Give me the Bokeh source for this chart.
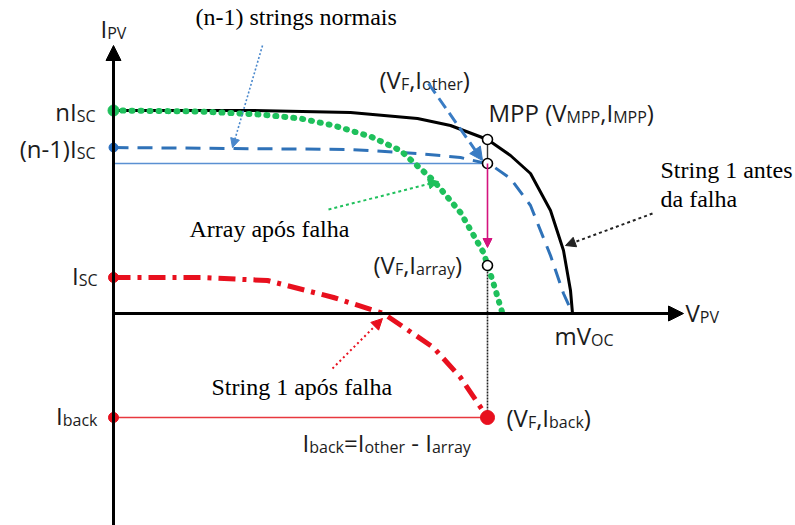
import glob
import subprocess

from bokeh.plotting import figure
from bokeh.models import Range1d, Arrow, NormalHead
from bokeh.core.properties import value
from bokeh.embed import file_html
from bokeh.resources import INLINE

# I-V curves in schematic units (origin at the axes crossing, 1 unit = 1 px)
before_v = [0, 137, 237, 304, 337, 374, 397, 417, 437, 450, 457, 459]
before_i = [203, 203, 201, 195, 188, 174, 158, 140, 103, 63, 23, 0]
normal_v = [0, 237, 304, 347, 377, 397, 417, 437, 450, 459]
normal_i = [166, 164, 160, 156, 149, 135, 108, 58, 20, 0]
array_v = [0, 87, 147, 187, 220, 257, 287, 320, 347, 370, 380, 389]
array_i = [203, 202, 199, 195, 188, 177, 163, 133, 101, 61, 30, 0]
fault_v = [0, 87, 154, 220, 270, 320, 347, 374]
fault_i = [36, 36, 33, 16, 0, -34, -64, -104]

# characteristic levels
N_ISC = 203
N1_ISC = 166
ISC = 36
I_BACK = -104
V_F = 374
I_MPP = 174
I_OTHER = 150
I_ARRAY = 48
M_VOC = 459

SANS = "Open Sans"
SERIF = "Liberation Serif"
INK = "#1c1c1c"
BLUE = "#2f72b8"
GREEN = "#1fc05c"
RED = "#e8101e"
MAGENTA = "#d4137e"
MAIN_PX = 24
SUB_PX = 16
NBSP = "\u00a0"
TEXT_LIFT = 9  # raise text so its baseline sits where intended

OX, OY = 113, 313  # axes crossing, in page pixels


def at(px, py):
    return px - OX, OY - py


p = figure(width=795, height=525, output_backend="svg", toolbar_location=None,
           x_range=Range1d(-OX, 795 - OX), y_range=Range1d(OY - 525, OY),
           min_border=0, outline_line_color=None)
p.xaxis.visible = False
p.yaxis.visible = False
p.grid.visible = False
p.background_fill_color = "white"
p.border_fill_color = "white"

# axes with arrow heads
ax_head = dict(size=15, fill_color="black", line_color="black")
p.add_layout(Arrow(end=NormalHead(**ax_head), x_start=0, y_start=OY - 525,
                   x_end=0, y_end=at(0, 45)[1], line_width=3, line_color="black"))
p.add_layout(Arrow(end=NormalHead(**ax_head), x_start=0, y_start=0,
                   x_end=at(683, 0)[0], y_end=0, line_width=3, line_color="black"))

# guide lines
p.line([0, V_F - 4], [I_OTHER, I_OTHER], line_color="#5a90d2", line_width=1.6)
p.line([0, V_F], [I_BACK, I_BACK], line_color="#e8383f", line_width=1.6)
p.line([V_F, V_F], [I_MPP, I_OTHER], line_color="#333333", line_width=1.4)
p.line([V_F, V_F], [I_ARRAY, I_BACK], line_color="#222222", line_width=1.6,
       line_dash="2 1")
p.add_layout(Arrow(end=NormalHead(size=9, fill_color=MAGENTA, line_color=MAGENTA),
                   x_start=V_F, y_start=I_OTHER, x_end=V_F, y_end=I_ARRAY + 18,
                   line_color=MAGENTA, line_width=1.6))

# curves
p.line(before_v, before_i, line_color="black", line_width=3)
p.line(normal_v, normal_i, line_color=BLUE, line_width=3, line_dash="15 9")
p.line(array_v, array_i, line_color=GREEN, line_width=6, line_dash="1 8",
       line_cap="round")
p.line(fault_v, fault_i, line_color=RED, line_width=5, line_dash="17 7 4 7")

# markers on the current axis
p.scatter([0], [N_ISC], size=11, color=GREEN)
p.scatter([0], [N1_ISC], size=9, color="#2a6fc0")
p.scatter([0, 0], [ISC, I_BACK], size=10, color=RED)
p.scatter([V_F], [I_BACK], size=14, color=RED)
p.scatter([V_F, V_F, V_F], [I_MPP, I_OTHER, I_ARRAY], size=10, fill_color="white",
          line_color="black", line_width=1.6)


# callout arrows
def callout(p0, p1, color, width, dash, head):
    x0, y0 = at(*p0)
    x1, y1 = at(*p1)
    p.add_layout(Arrow(end=NormalHead(size=head, fill_color=color, line_color=color),
                       x_start=x0, y_start=y0, x_end=x1, y_end=y1,
                       line_color=color, line_width=width, line_dash=dash))


callout((262, 45), (232, 147), "#4a88cc", 1.6, "2 2", 9)
callout((428, 83), (482, 160), "#3a7cc4", 3, "12 6", 13)
callout((652, 213), (565, 245), "#222222", 2, "3 3", 10)
callout((328, 209), (438, 181), GREEN, 2, "3 3", 10)
callout((332, 368), (382, 318), RED, 2, "2 3", 11)


# text measurement for labels built from main text plus subscripts
def _font_path():
    try:
        out = subprocess.run(["fc-match", "-f", "%{file}", SANS + ":style=Regular"],
                             capture_output=True, text=True, timeout=5).stdout.strip()
        if "opensans" in out.replace(" ", "").replace("_", "").lower():
            return out
    except Exception:
        pass
    hits = []
    for root in ("/usr/share/fonts", "/usr/local/share/fonts"):
        hits += glob.glob(root + "/**/OpenSans*", recursive=True)
    hits = [h for h in hits if h.lower().endswith((".ttf", ".otf"))]
    hits.sort(key=lambda h: ("Regular" not in h and "[" not in h, len(h)))
    return hits[0] if hits else None


ADV = {"I": 0.279, "V": 0.612, "P": 0.6, "M": 0.897, "S": 0.549, "C": 0.633,
       "O": 0.778, "F": 0.543, "n": 0.613, "m": 0.931, "o": 0.602, "t": 0.353,
       "h": 0.613, "e": 0.561, "r": 0.408, "a": 0.556, "y": 0.5, "b": 0.613,
       "c": 0.479, "k": 0.525, "(": 0.296, ")": 0.296, ",": 0.249, "-": 0.322,
       "=": 0.571, "1": 0.571, " ": 0.26, NBSP: 0.26, "l": 0.275}
_cache = {}
try:
    from PIL import ImageFont
    _path = _font_path()
except Exception:
    ImageFont, _path = None, None


def width(s, size):
    if ImageFont is not None and _path:
        try:
            if size not in _cache:
                _cache[size] = ImageFont.truetype(_path, size)
            return _cache[size].getlength(s.replace(NBSP, " "))
        except Exception:
            pass
    return sum(ADV.get(c, 0.56) for c in s) * size


def rich(px, py, parts, align="left"):
    x, y = at(px, py - TEXT_LIFT)
    sizes = [SUB_PX if s else MAIN_PX for _, s in parts]
    total = sum(width(t, fs) for (t, _), fs in zip(parts, sizes))
    if align == "right":
        x -= total
    for (t, s), fs in zip(parts, sizes):
        p.text(x=[x], y=[y - (4 if s else 0)], text=[t], text_font=value(SANS),
               text_font_size=f"{fs}px", text_baseline="alphabetic",
               text_align="left", text_color=INK)
        x += width(t, fs)


rich(100, 37, [("I", 0), ("PV", 1)])
rich(95, 120, [("nI", 0), ("SC", 1)], align="right")
rich(95, 157, [("(n-1)I", 0), ("SC", 1)], align="right")
rich(97, 284, [("I", 0), ("SC", 1)], align="right")
rich(97, 424, [("I", 0), ("back", 1)], align="right")
rich(685, 321, [("V", 0), ("PV", 1)])
rich(554, 344, [("mV", 0), ("OC", 1)])
rich(379, 88, [("(V", 0), ("F", 1), (",I", 0), ("other", 1), (")", 0)])
rich(488, 121, [("MPP (V", 0), ("MPP", 1), (",I", 0), ("MPP", 1), (")", 0)])
rich(373, 273, [("(V", 0), ("F", 1), (",I", 0), ("array", 1), (")", 0)])
rich(506, 426, [("(V", 0), ("F", 1), (",I", 0), ("back", 1), (")", 0)])
rich(302, 451, [("I", 0), ("back", 1), ("=I", 0), ("other", 1),
                (NBSP + "-" + NBSP + "I", 0), ("array", 1)])

# serif captions
captions = ["(n-1) strings normais", "String 1 antes", "da falha",
            "Array após falha", "String 1 após falha"]
cap_pos = [(195, 25), (660, 178), (660, 207), (189, 237), (211, 395)]
for txt, (cx, cy) in zip(captions, cap_pos):
    x, y = at(cx, cy - TEXT_LIFT)
    p.text(x=[x], y=[y], text=[txt], text_font=value(SERIF), text_font_size="24px",
           text_baseline="alphabetic", text_align="left", text_color="black")

open("out.html", "w").write(file_html(p, INLINE))
